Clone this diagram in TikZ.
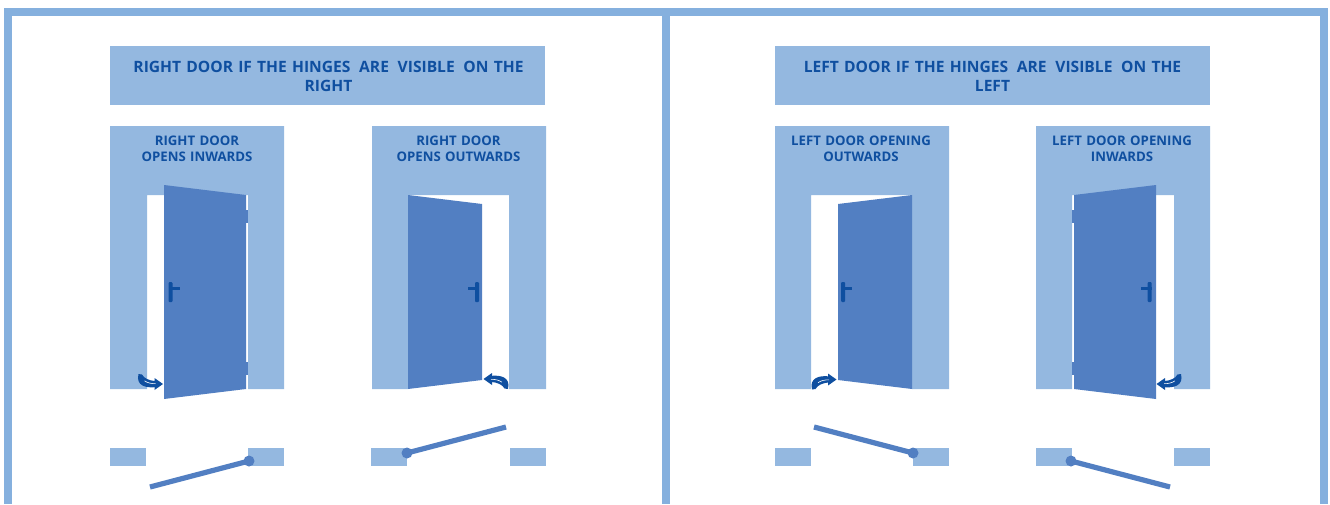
\documentclass[tikz,border=0pt]{standalone}
\usepackage{fontspec}
\setmainfont{Open Sans}
\definecolor{framec}{HTML}{85B0DE}
\definecolor{wallc}{HTML}{94B8E0}
\definecolor{doorc}{HTML}{527FC2}
\definecolor{inkc}{HTML}{0F4FA0}
\tikzset{
  wall/.style={fill=wallc,draw=none},
  doorleaf/.style={fill=doorc,draw=none},
  ink/.style={fill=inkc,draw=none},
  swing/.style={draw=doorc,line width=5.2pt},
  pivot/.style={circle,fill=doorc,minimum size=11pt,inner sep=0pt},
  headtxt/.style={text=inkc,font=\fontsize{15.6}{19}\selectfont\bfseries,align=center,text width=430pt},
  subtxt/.style={text=inkc,font=\fontsize{13.2}{16}\selectfont\bfseries,align=center,text width=172pt}
}
\newcommand{\handleR}[1]{\fill[ink,rounded corners=1pt] (#1,282) rectangle ++(4,20); \fill[ink] (#1,287) rectangle ++(11,2.5);}
\newcommand{\handleL}[1]{\fill[ink,rounded corners=1pt] (#1,282) rectangle ++(-4,20); \fill[ink] (#1,287) rectangle ++(-11,2.5);}
\newcommand{\swingarrow}[3]{%
  \begin{scope}[shift={(#1,#2)},#3]
    \fill[ink] (-24,-10) -- (-20.5,-9.5) .. controls (-18.5,-5.5) and (-13,-3.5) .. (-8,-3) -- (-8,-6) -- (0.5,0) -- (-8,6) -- (-8,3.2) .. controls (-16,4) and (-27,2) .. (-24,-10) -- cycle;
    \draw[white,line width=.6pt] (-18,-3.2) .. controls (-15,-1) and (-11,-0.3) .. (-7,-0.3);
  \end{scope}}
\newcommand{\gapA}{\hspace{3.5pt}}
\begin{document}
\begin{tikzpicture}[x=1pt,y=-1pt]
\useasboundingbox (0,0) rectangle (1330,504);
\fill[white] (0,0) rectangle (1330,504);
% outer frame
\fill[framec] (4,8) rectangle (1328,16);
\fill[framec] (4,8) rectangle (12,504);
\fill[framec] (662,8) rectangle (670,504);
\fill[framec] (1320,8) rectangle (1328,504);
% headings
\fill[wall] (110,46) rectangle (545,105);
\node[headtxt] (h1) at (328.5,76) {RIGHT DOOR IF THE HINGES \gapA ARE \gapA VISIBLE \gapA ON THE\\RIGHT};
\fill[wall] (775,46) rectangle (1210,105);
\node[headtxt] (h2) at (992.5,76) {LEFT DOOR IF THE HINGES \gapA ARE \gapA VISIBLE \gapA ON THE\\LEFT};
% door A
\fill[wall] (110,126) -- (284,126) -- (284,389) -- (248,389) -- (248,195) -- (147,195) -- (147,389) -- (110,389) -- cycle;
\node[subtxt] (ta) at (197,148.5) {RIGHT DOOR\\OPENS INWARDS};
\fill[doorc] (246,210) rectangle (248,223);
\fill[doorc] (246,362) rectangle (248,375);
\fill[doorleaf] (164,185) -- (246,195) -- (246,389) -- (164,399) -- cycle;
\handleR{168.5}
% door B
\fill[wall] (372,126) -- (546,126) -- (546,389) -- (509,389) -- (509,195) -- (408,195) -- (408,389) -- (372,389) -- cycle;
\node[subtxt] (tb) at (458.5,148.5) {RIGHT DOOR\\OPENS OUTWARDS};
\fill[doorleaf] (408,195) -- (482,204) -- (482,380) -- (408,389) -- cycle;
\handleL{479}
% door C
\fill[wall] (775,126) -- (949,126) -- (949,389) -- (912,389) -- (912,195) -- (811,195) -- (811,389) -- (775,389) -- cycle;
\node[subtxt] (tc) at (861,148.5) {LEFT DOOR OPENING\\OUTWARDS};
\fill[doorleaf] (838,204) -- (912,195) -- (912,389) -- (838,380) -- cycle;
\handleR{841}
% door D
\fill[wall] (1036,126) -- (1210,126) -- (1210,389) -- (1174,389) -- (1174,195) -- (1072,195) -- (1072,389) -- (1036,389) -- cycle;
\node[subtxt] (td) at (1122,148.5) {LEFT DOOR OPENING\\INWARDS};
\fill[doorc] (1072,362) rectangle (1074,375);
\fill[doorc] (1072,210) rectangle (1074,223);
\fill[doorleaf] (1074,195) -- (1156,185) -- (1156,399) -- (1074,389) -- cycle;
\handleL{1151.5}
% arrows
\swingarrow{162.5}{384}{}
\swingarrow{484}{379}{xscale=-1,yscale=-1}
\swingarrow{836}{379.5}{yscale=-1}
\swingarrow{1157}{384}{xscale=-1}
% plan A
\fill[wall] (110,448) rectangle (146,466);
\fill[wall] (248,448) rectangle (284,466);
\coordinate (fa) at (150,487);
\node[pivot] (pa) at (249,461) {};
\draw[swing] (fa) -- (pa.center);
% plan B
\fill[wall] (371,448) rectangle (407,466);
\fill[wall] (510,448) rectangle (546,466);
\coordinate (fb) at (506,427);
\node[pivot] (pb) at (407,453) {};
\draw[swing] (fb) -- (pb.center);
% plan C
\fill[wall] (775,448) rectangle (811,466);
\fill[wall] (913,448) rectangle (949,466);
\coordinate (fc) at (814,427);
\node[pivot] (pc) at (913,453) {};
\draw[swing] (fc) -- (pc.center);
% plan D
\fill[wall] (1036,448) rectangle (1072,466);
\fill[wall] (1174,448) rectangle (1210,466);
\coordinate (fd) at (1170,487);
\node[pivot] (pd) at (1071,461) {};
\draw[swing] (fd) -- (pd.center);
\end{tikzpicture}
\end{document}
